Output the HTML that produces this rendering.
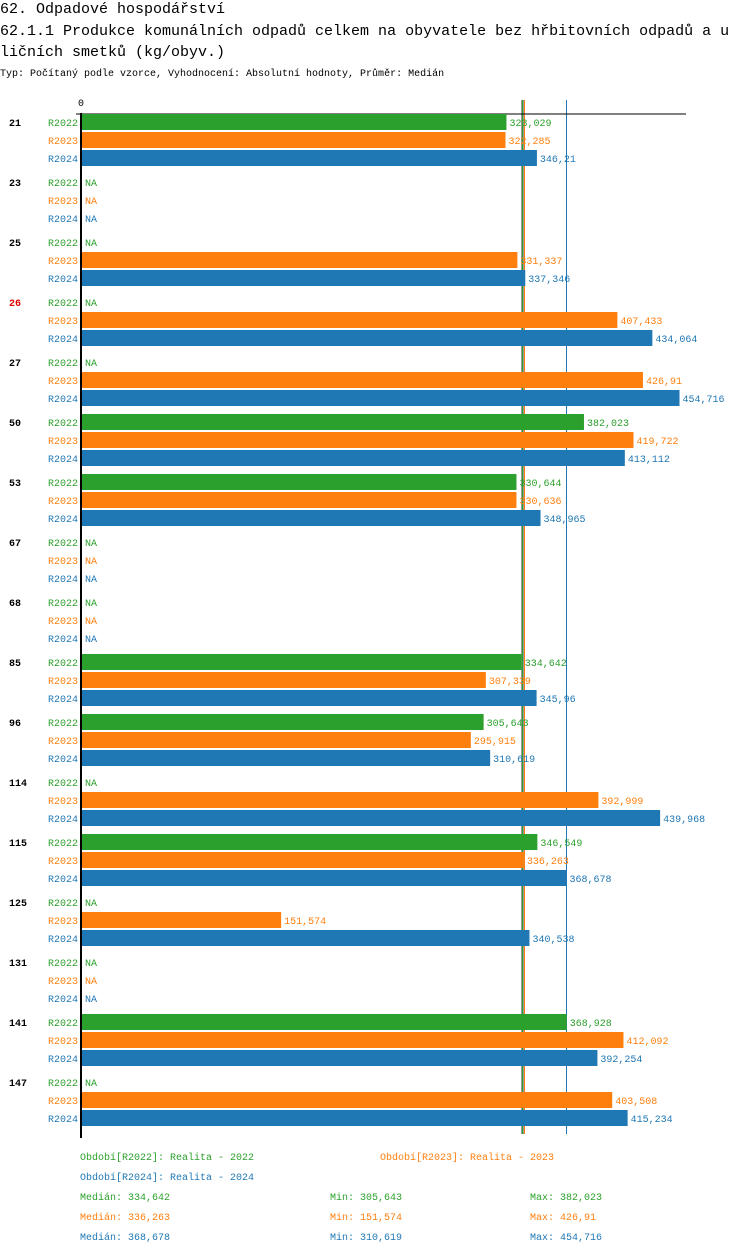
<!DOCTYPE html>
<html><head><meta charset="utf-8"><style>
body{margin:0;background:#fff;width:750px;height:1254px;overflow:hidden}
svg{display:block}
text{font-family:"Liberation Mono",monospace;font-size:10px}
</style></head><body>
<svg id="c" width="750" height="1254">
<text x="0" y="13" style="font-size:15px">62. Odpadové hospodářství</text>
<text x="0" y="35" style="font-size:15px">62.1.1 Produkce komunálních odpadů celkem na obyvatele bez hřbitovních odpadů a u</text>
<text x="0" y="56" style="font-size:15px">ličních smetků (kg/obyv.)</text>
<text x="0" y="76" style="font-size:10px">Typ: Počítaný podle vzorce, Vyhodnocení: Absolutní hodnoty, Průměr: Medián</text>
</svg>
<script>
const categories=["21","23","25","26","27","50","53","67","68","85","96","114","115","125","131","141","147"];
const series=["R2022","R2023","R2024"];
const v2022=[323.029,null,null,null,null,382.023,330.644,null,null,334.642,305.643,null,346.549,null,null,368.928,null];
const v2023=[322.285,null,331.337,407.433,426.91,419.722,330.636,null,null,307.339,295.915,392.999,336.263,151.574,null,412.092,403.508];
const v2024=[346.21,null,337.346,434.064,454.716,413.112,348.965,null,null,345.96,310.619,439.968,368.678,340.538,null,392.254,415.234];
const medians=[334.642,336.263,368.678];
const mins=["305,643","151,574","310,619"];
const maxs=["382,023","426,91","454,716"];
const colors=["#2ca02c","#ff7f0e","#1f77b4"];
const NS="http://www.w3.org/2000/svg",svg=document.getElementById('c');
const x0=82,k=1.314;
const xs=v=>x0+v*k;
function el(t,a,txt){const e=document.createElementNS(NS,t);for(const n in a)e.setAttribute(n,a[n]);if(txt!=null)e.textContent=txt;svg.appendChild(e);return e;}
const fmt=v=>String(v).replace('.',',');
const vals=[v2022,v2023,v2024];
medians.forEach((m,j)=>{
  const x=Math.round(xs(m))+0.5;
  let e;
  if(j<2){e=el('line',{x1:x-1,y1:100,x2:x-1,y2:1134,stroke:'#999','stroke-width':1});
    }
  e=el('line',{x1:x,y1:100,x2:x,y2:1134,stroke:colors[j],'stroke-width':1});
  
});
let e=el('line',{x1:76,y1:114,x2:686,y2:114,stroke:'#000','stroke-width':1});

e=el('text',{x:78,y:106});
e.textContent='0';

categories.forEach((c,i)=>{
  const gy=114+i*60;
  e=el('text',{x:9,y:gy+12,'font-weight':'bold','font-size':'11',fill:c==='26'?'#e00000':'#000'},c);
  
  series.forEach((s,j)=>{
    const y=gy+j*18,v=vals[j][i];
    e=el('text',{x:78,y:y+12,'text-anchor':'end',fill:colors[j]},s);
    
    if(v==null){
      e=el('text',{x:85,y:y+12,fill:colors[j]},'NA');
      
    }else{
      e=el('rect',{x:x0,y:y,width:xs(v)-x0,height:16,fill:colors[j]});
      
      e=el('text',{x:xs(v)+3,y:y+12,fill:colors[j]},fmt(v));
      
    }
  });
});
e=el('rect',{x:80,y:113,width:2,height:1025,fill:'#000'});

const leg=[[80,1160,0,'Období[R2022]: Realita - 2022'],[380,1160,1,'Období[R2023]: Realita - 2023'],[80,1180,2,'Období[R2024]: Realita - 2024']];
leg.forEach(l=>{e=el('text',{x:l[0],y:l[1],fill:colors[l[2]]},l[3]);
  });
medians.forEach((m,j)=>{
  const y=1200+j*20;
  e=el('text',{x:80,y:y,fill:colors[j]},'Medián: '+fmt(m));
  
  e=el('text',{x:330,y:y,fill:colors[j]},'Min: '+mins[j]);
  
  e=el('text',{x:530,y:y,fill:colors[j]},'Max: '+maxs[j]);
  
});
</script>
</body></html>
